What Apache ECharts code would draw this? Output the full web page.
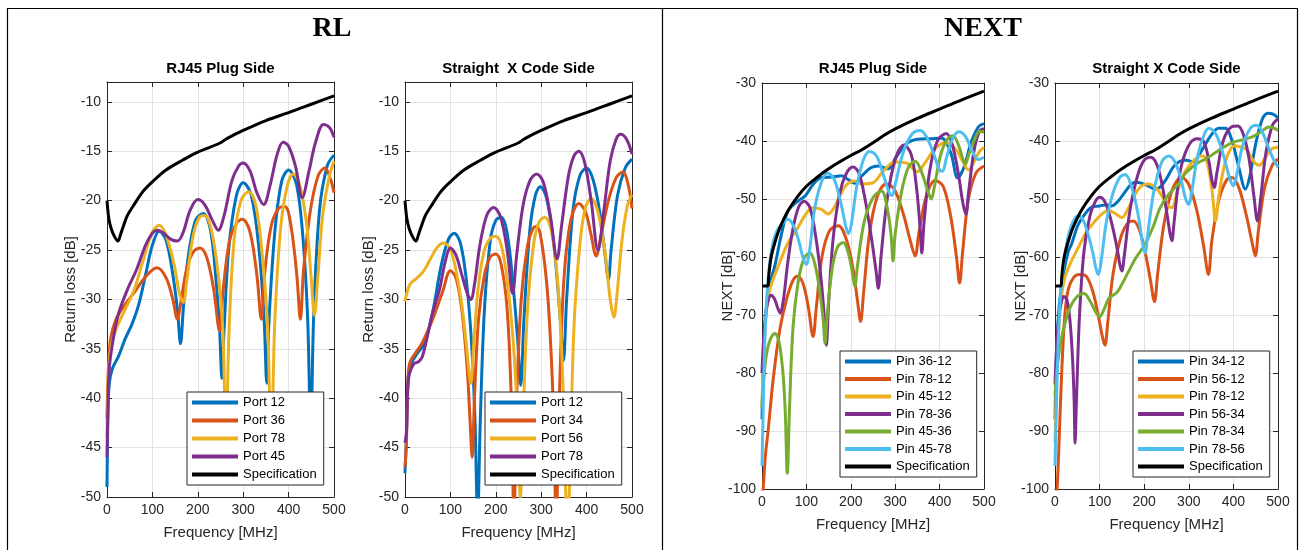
<!DOCTYPE html>
<html>
<head>
<meta charset="utf-8">
<script src="https://cdn.jsdelivr.net/npm/echarts@6/dist/echarts.min.js"></script>
<style>
  html, body { margin: 0; padding: 0; background: #ffffff; }
  #chart { width: 1304px; height: 550px; }
</style>
</head>
<body>
<div id="chart"></div>
<script>
// ---------- Return loss: frequency [MHz] / dB pairs ----------
const rlSpec = [[0,-20],[4,-21.8],[9,-22.8],[16,-23.6],[24,-24.1],[30,-23.4],[36,-22.6],[45,-21.5],[57,-20.6],[79,-19.1],[100,-18.1],[130,-16.9],[167,-15.9],[200,-15.1],[248,-14.2],[265,-13.7],[300,-12.9],[350,-11.9],[400,-11.1],[453,-10.2],[500,-9.4]];

// RJ45 plug side
const rlPlugPort12 = [[0,-49],[2,-42],[5,-38.5],[12,-37],[25,-35.8],[40,-34],[55,-32.5],[70,-30.5],[85,-27.5],[100,-24.5],[115,-23.1],[130,-24],[145,-27.5],[155,-31],[162,-34.5],[168,-31],[178,-26],[195,-22],[212,-21.3],[228,-23],[240,-28],[248,-33],[253,-38],[258,-33],[268,-25],[285,-19.5],[300,-18.2],[318,-19.5],[335,-25],[346,-32],[352,-38.5],[357,-32],[370,-23],[385,-18],[400,-16.9],[418,-18.5],[432,-24],[442,-32],[449,-44],[455,-32],[468,-21],[485,-16.5],[500,-15.4]];
const rlPlugPort36 = [[0,-42],[3,-37],[8,-34],[20,-32],[40,-30.5],[60,-29.3],[85,-27.7],[110,-26.8],[130,-27.8],[145,-30],[155,-32],[162,-30.5],[175,-27],[190,-25.2],[205,-24.8],[220,-25.8],[235,-29],[248,-33.2],[256,-29],[270,-24],[285,-22.3],[298,-21.9],[315,-23.2],[330,-27.5],[340,-32],[348,-27],[362,-22.5],[378,-20.8],[392,-20.6],[405,-22.5],[418,-27.5],[426,-32],[433,-27],[448,-21],[465,-17.5],[480,-16.7],[492,-17.8],[500,-19.2]];
const rlPlugPort78 = [[0,-44],[3,-38],[8,-35],[20,-33],[40,-31],[60,-29],[80,-26],[100,-23.2],[115,-22.5],[130,-23.5],[148,-26.5],[160,-29.5],[168,-30.3],[176,-28],[190,-23.5],[205,-21.6],[215,-21.5],[230,-23],[245,-27.5],[255,-33],[262,-44],[269,-33],[280,-24],[295,-20],[312,-19.1],[328,-20.5],[343,-26],[354,-33],[362,-46],[369,-33],[382,-23],[397,-18.5],[410,-17.3],[425,-18.5],[440,-22.5],[450,-28],[457,-31.6],[464,-28],[475,-21.5],[490,-17.5],[500,-16]];
const rlPlugPort45 = [[0,-46],[2,-41],[5,-37],[12,-34.5],[25,-31.5],[45,-29],[65,-27],[85,-24.5],[100,-23.3],[112,-23],[125,-23.3],[140,-23.9],[155,-24.1],[168,-23.2],[183,-21],[200,-19.9],[215,-20.4],[232,-22],[245,-23],[258,-21.5],[275,-18],[290,-16.5],[300,-16.2],[315,-17],[330,-19.2],[345,-20.4],[360,-18.3],[375,-15.3],[388,-14.1],[400,-14.5],[415,-16.5],[430,-19.7],[445,-17],[460,-14],[477,-12.3],[490,-12.6],[500,-13.6]];

// Straight X code side
const rlCodePort12 = [[0,-47.6],[3,-44],[6,-39],[10,-36.9],[25,-35.6],[43,-34.4],[60,-31.5],[80,-26.5],[95,-24],[108,-23.3],[122,-24.3],[135,-28],[146,-34],[154,-42],[160,-52],[166,-42],[175,-31],[188,-24],[200,-22],[212,-21.7],[225,-23.3],[238,-28.5],[248,-34],[255,-38.7],[262,-32],[275,-23],[287,-19.5],[298,-18.6],[312,-19.8],[328,-24.5],[342,-32],[349,-36.2],[356,-30],[370,-21],[385,-17.5],[400,-16.7],[415,-18],[430,-21.5],[442,-26],[448,-28],[454,-25],[468,-19.5],[485,-16.7],[500,-15.8]];
const rlCodePort34 = [[0,-47],[3,-44.6],[6,-39],[10,-36.5],[25,-35.3],[39,-34.3],[61,-32],[83,-29.2],[100,-27.1],[112,-27.8],[125,-31],[137,-37],[143,-42],[148,-46],[153,-40],[162,-32],[175,-27.5],[188,-25.7],[200,-25.4],[212,-26.5],[225,-31],[234,-40],[240,-52],[246,-40],[256,-30],[270,-24.5],[282,-22.8],[290,-22.6],[302,-24.5],[315,-30],[326,-40],[333,-52],[340,-40],[350,-28],[365,-22],[383,-20.3],[398,-21.2],[410,-23.5],[421,-25.6],[432,-23.5],[448,-20],[465,-17.7],[480,-17.1],[492,-18.5],[500,-20.8]];
const rlCodePort56 = [[0,-30.2],[5,-29.2],[12,-28.4],[25,-27.9],[40,-27.2],[55,-26],[70,-24.8],[85,-24.3],[100,-25],[112,-27],[125,-30.5],[135,-34.5],[145,-38.5],[152,-34],[162,-28.5],[175,-25],[188,-23.8],[200,-23.6],[212,-24.5],[225,-28],[238,-34],[248,-42],[254,-50],[260,-42],[270,-31],[283,-24.5],[295,-22.2],[308,-21.7],[322,-23],[335,-27.5],[346,-36],[353,-48],[358,-53],[363,-48],[372,-33],[385,-24.5],[397,-20.8],[410,-19.8],[424,-21],[440,-25],[452,-30],[460,-31.8],[467,-29.5],[478,-24],[490,-20.5],[500,-19.4]];
const rlCodePort78 = [[0,-44.5],[3,-43.5],[6,-39],[10,-37.5],[20,-36.5],[30,-36.3],[38,-35.8],[48,-34],[60,-31.5],[76,-29],[88,-26.3],[100,-24.8],[112,-25.5],[125,-27.5],[138,-29.5],[145,-30],[153,-28.5],[165,-24.5],[180,-21.5],[195,-20.7],[210,-21.6],[225,-25],[237,-29.4],[246,-25.5],[260,-20.5],[275,-18],[290,-17.3],[305,-18.2],[320,-21.5],[335,-25.9],[345,-22.5],[360,-17.5],[372,-15.5],[383,-15],[396,-16.2],[410,-20],[425,-25],[438,-21],[452,-16],[465,-13.8],[475,-13.3],[488,-13.8],[500,-15.3]];

// ---------- NEXT: frequency [MHz] / dB pairs ----------
const nextSpec = [[0,-65],[13,-65],[15,-63.5],[18,-61.3],[22,-59.5],[29,-57.5],[36,-55.8],[44,-54.3],[59,-52],[80,-49.6],[100,-47.8],[125,-46.2],[150,-44.8],[175,-43.6],[200,-42.5],[225,-41.5],[254,-40.1],[275,-39],[300,-37.9],[350,-36.1],[400,-34.5],[450,-32.9],[500,-31.4]];

// RJ45 plug side
const nxPlug3612 = [[0,-88],[3,-78],[7,-72],[12,-67],[18,-64.5],[29,-61.5],[44,-56],[59,-52],[82,-50.3],[97,-49.5],[115,-47.5],[134,-46.3],[157,-46.2],[179,-46],[195,-46.7],[209,-47.3],[225,-46],[245,-44.6],[262,-44.3],[284,-44.8],[300,-43],[325,-40.5],[350,-39.7],[380,-39.6],[404,-39.5],[425,-42],[441,-46.4],[455,-44.5],[472,-40],[488,-37.5],[500,-37]];
const nxPlug7812 = [[0,-103],[3,-99.6],[8,-94],[14,-89.8],[25,-81.2],[40,-72.6],[55,-67.4],[70,-64],[80,-63.3],[92,-64.5],[104,-68.5],[115,-73.7],[122,-69],[135,-60],[152,-55.5],[172,-54.6],[190,-57],[205,-62],[215,-67.5],[222,-71.1],[229,-66],[242,-56],[260,-49.5],[280,-47.4],[298,-48.3],[318,-52.5],[335,-57.5],[345,-59.8],[353,-56],[370,-49.5],[390,-46.8],[408,-47.8],[425,-53],[438,-60],[445,-64.5],[452,-59],[465,-50],[482,-45.5],[500,-44.3]];
const nxPlug4512 = [[0,-86],[4,-76],[9,-70],[15,-66.5],[22,-64.5],[37,-61.5],[59,-57.5],[82,-54.8],[97,-52.8],[115,-51.5],[134,-51.8],[149,-52.6],[160,-51.8],[172,-50],[190,-47.6],[209,-46.9],[225,-47.4],[250,-47.2],[270,-45.5],[299,-43.6],[325,-43.8],[350,-45.3],[365,-44],[389,-41.4],[412,-40.3],[434,-41.2],[452,-43.5],[465,-45],[478,-43.5],[490,-41.8],[500,-41.1]];
const nxPlug7836 = [[0,-80],[3,-75],[8,-70],[14,-67.5],[20,-66.6],[28,-67.2],[35,-68.7],[41,-69.7],[48,-67.5],[58,-61],[70,-55],[83,-51.3],[95,-50.4],[108,-51.5],[120,-56],[132,-63],[140,-70],[145,-75.2],[150,-68],[160,-57],[175,-49],[190,-45.6],[205,-44.5],[218,-45.5],[232,-50],[247,-57],[257,-62.5],[262,-65.4],[268,-60],[282,-50],[300,-43.2],[320,-40.7],[336,-42.3],[348,-48],[356,-55],[360,-59.3],[365,-54],[378,-45],[395,-40],[415,-38.7],[428,-40.5],[442,-45.5],[452,-50.5],[459,-52.6],[465,-49],[478,-41.5],[490,-38.3],[500,-37.9]];
const nxPlug4536 = [[0,-86],[5,-80],[12,-76],[20,-74],[29,-73.2],[38,-74.5],[46,-79],[52,-86],[57,-97.3],[62,-86],[70,-72],[82,-64],[95,-60.2],[108,-59.3],[120,-61.5],[132,-67],[138,-71],[142,-74.9],[147,-70],[158,-62],[170,-58.3],[183,-57.5],[195,-59.5],[203,-62.5],[209,-65.1],[215,-61.5],[230,-54],[250,-49.8],[269,-48.6],[282,-51.5],[291,-56.5],[295,-60.7],[300,-56],[315,-48.5],[330,-44.5],[345,-43.5],[360,-45.5],[373,-48.5],[381,-50],[388,-48],[402,-42.5],[417,-39.7],[430,-39.1],[443,-40.8],[452,-43],[458,-44],[465,-42.5],[480,-39.5],[490,-38.3],[500,-38.5]];
const nxPlug4578 = [[0,-96],[3,-85],[6,-75],[10,-68],[16,-62],[25,-57.5],[35,-55.3],[45,-54.3],[58,-53.5],[70,-54.5],[82,-57],[92,-60],[100,-61.3],[107,-59],[118,-52],[132,-47.5],[147,-45.5],[162,-46.5],[177,-50.5],[189,-54.8],[195,-56],[202,-54],[213,-48],[228,-43.3],[242,-41.8],[258,-42.6],[274,-46],[287,-49],[293,-49.4],[300,-47.5],[318,-42],[338,-38.8],[357,-38.2],[372,-39.5],[388,-42.5],[400,-45],[407,-45.2],[415,-43],[428,-39.8],[443,-38.4],[458,-39.2],[472,-41.5],[487,-43.2],[500,-42.8]];

// Straight X code side
const nxCode3412 = [[0,-88],[3,-78],[7,-71],[12,-66.5],[20,-62.5],[30,-59],[37,-57.8],[52,-54.4],[70,-52.3],[85,-51.3],[100,-51.2],[115,-51],[127,-51.2],[140,-50.5],[155,-49],[170,-47.5],[180,-47.1],[195,-47.3],[210,-47.8],[225,-48.3],[235,-48],[250,-46.5],[265,-44.5],[280,-43.5],[294,-43.3],[310,-43.6],[330,-41.5],[350,-39],[367,-37.8],[382,-37.8],[397,-40],[412,-44.5],[427,-48.3],[437,-46],[450,-40.5],[465,-36.2],[478,-35.2],[490,-35.4],[500,-36]];
const nxCode5612 = [[0,-104],[5,-99.6],[10,-90],[15,-80],[22,-70],[30,-65.5],[42,-63.5],[55,-63],[70,-63.3],[85,-66],[98,-70.5],[107,-74],[112,-75.2],[118,-71.5],[130,-63],[148,-56.5],[165,-54],[176,-53.8],[190,-55.5],[203,-59.5],[214,-64],[223,-67.7],[230,-63],[245,-54],[265,-48],[284,-46.3],[300,-47.5],[318,-52],[333,-58],[344,-63],[352,-57],[368,-50],[385,-46.7],[397,-46.3],[412,-48],[428,-52.5],[442,-57.5],[449,-59.8],[456,-55.5],[470,-48],[487,-44.2],[500,-43.1]];
const nxCode7812 = [[0,-92],[4,-80],[8,-73],[14,-67],[22,-63.6],[35,-61],[52,-58.4],[70,-55.8],[90,-53.8],[105,-52.6],[120,-52],[135,-52.5],[150,-53.2],[165,-51.5],[185,-48.5],[200,-47.5],[210,-47.4],[225,-48],[240,-49.5],[252,-51],[262,-51.5],[275,-48.5],[290,-45.5],[305,-43.9],[320,-42.8],[332,-42.6],[342,-44],[352,-48.5],[360,-53.8],[368,-49],[382,-43.5],[395,-41.2],[404,-40.8],[415,-41],[430,-41.5],[445,-43.5],[458,-44.2],[472,-42.8],[487,-41.3],[500,-41.1]];
const nxCode5634 = [[0,-82],[4,-75],[9,-70],[15,-67.5],[20,-66.8],[27,-67.5],[33,-70.5],[39,-77],[43,-85],[45,-92.1],[48,-85],[55,-70],[65,-59],[78,-53],[90,-50.5],[100,-49.7],[112,-50.5],[125,-53.5],[138,-58],[146,-61.5],[150,-62.4],[155,-60],[168,-52],[185,-46],[200,-43.3],[215,-42.8],[228,-44],[240,-47.5],[252,-53],[258,-56],[262,-57.2],[267,-54],[280,-45.5],[298,-41],[318,-39.6],[333,-40],[345,-43.5],[352,-46.8],[357,-48],[363,-45.5],[377,-40],[395,-37.6],[410,-37.4],[422,-38.8],[435,-43],[446,-49.5],[454,-53.8],[461,-50],[473,-42],[488,-37.2],[500,-36.2]];
const nxCode7834 = [[0,-84],[5,-79],[12,-75],[22,-71.5],[35,-68.5],[50,-66.8],[65,-66.3],[78,-67.5],[90,-69.3],[100,-70.3],[110,-69],[120,-67.2],[130,-66.6],[140,-66],[150,-64.7],[165,-62.5],[180,-60.3],[202,-57.8],[220,-54.8],[236,-51.5],[255,-49.2],[277,-47.4],[290,-45.8],[300,-45],[320,-43.8],[340,-43],[360,-42],[380,-41],[400,-40.2],[420,-39.8],[442,-39.3],[460,-38.5],[480,-37.6],[492,-37.8],[500,-38.2]];
const nxCode7856 = [[0,-96],[3,-86],[7,-75],[12,-67],[18,-62],[28,-57],[40,-54],[52,-52.9],[62,-53.5],[72,-55.5],[84,-59],[92,-62],[97,-63],[103,-61],[115,-54],[130,-49],[146,-46.2],[158,-45.8],[172,-48],[186,-52.5],[196,-57.5],[202,-59.3],[208,-56],[222,-48.5],[240,-43.5],[255,-42.6],[268,-43.5],[282,-46.5],[293,-50],[300,-50.9],[306,-49],[320,-42.5],[335,-38.8],[345,-37.8],[360,-38.7],[376,-42],[392,-46.5],[400,-47.7],[407,-46],[420,-41],[438,-37.8],[452,-37.3],[465,-38.5],[478,-41],[490,-43.2],[500,-44.5]];

// ---------- axis ticks ----------
const freqTicks = { min: 0, max: 500, step: 100 };
const rlTicks = { min: -50, max: -8, step: 5 };
const nextTicks = { min: -100, max: -30, step: 10 };

// ---------- styling ----------
const C = {
  blue: '#0072BD', orange: '#D95319', yellow: '#EDB120',
  purple: '#7E2F8E', green: '#77AC30', cyan: '#4DBEEE', black: '#000000'
};
const FONT = '"Liberation Sans", Arial, Helvetica, sans-serif';
const AXIS = '#262626';
const GRIDLINE = '#e2e2e2';

// one block per subplot
const panels = [
  { box: { left: 107, top: 82, width: 227, height: 415 }, y: rlTicks, yName: 'Return loss [dB]', yGap: 29,
    title: 'RJ45 Plug Side', legendPos: { left: 187, top: 392 }, legendGap: 5,
    lines: [['Port 12', rlPlugPort12, C.blue], ['Port 36', rlPlugPort36, C.orange], ['Port 78', rlPlugPort78, C.yellow],
            ['Port 45', rlPlugPort45, C.purple], ['Specification', rlSpec, C.black]] },
  { box: { left: 405, top: 82, width: 227, height: 415 }, y: rlTicks, yName: 'Return loss [dB]', yGap: 29,
    title: 'Straight  X Code Side', legendPos: { left: 485, top: 392 }, legendGap: 5,
    lines: [['Port 12', rlCodePort12, C.blue], ['Port 34', rlCodePort34, C.orange], ['Port 56', rlCodePort56, C.yellow],
            ['Port 78', rlCodePort78, C.purple], ['Specification', rlSpec, C.black]] },
  { box: { left: 762, top: 83, width: 222, height: 406 }, y: nextTicks, yName: 'NEXT [dB]', yGap: 27,
    title: 'RJ45 Plug Side', legendPos: { left: 840, top: 351 }, legendGap: 4.5,
    lines: [['Pin 36-12', nxPlug3612, C.blue], ['Pin 78-12', nxPlug7812, C.orange], ['Pin 45-12', nxPlug4512, C.yellow],
            ['Pin 78-36', nxPlug7836, C.purple], ['Pin 45-36', nxPlug4536, C.green], ['Pin 45-78', nxPlug4578, C.cyan],
            ['Specification', nextSpec, C.black]] },
  { box: { left: 1055, top: 83, width: 223, height: 406 }, y: nextTicks, yName: 'NEXT [dB]', yGap: 27,
    title: 'Straight X Code Side', legendPos: { left: 1133, top: 351 }, legendGap: 4.5,
    lines: [['Pin 34-12', nxCode3412, C.blue], ['Pin 56-12', nxCode5612, C.orange], ['Pin 78-12', nxCode7812, C.yellow],
            ['Pin 56-34', nxCode5634, C.purple], ['Pin 78-34', nxCode7834, C.green], ['Pin 78-56', nxCode7856, C.cyan],
            ['Specification', nextSpec, C.black]] }
];

const grids = [], xAxes = [], yAxes = [], series = [], legends = [], graphics = [];

panels.forEach((p, gi) => {
  grids.push(Object.assign({ containLabel: false }, p.box));

  const line = { show: true, onZero: false, lineStyle: { color: AXIS, width: 1 } };
  const tick = { show: true, inside: true, length: 5, lineStyle: { color: AXIS, width: 1 } };

  xAxes.push({
    type: 'value', gridIndex: gi, position: 'bottom',
    min: freqTicks.min, max: freqTicks.max, interval: freqTicks.step,
    axisLine: line, axisTick: tick,
    axisLabel: { color: AXIS, fontSize: 14, fontFamily: FONT, margin: 6 },
    splitLine: { show: true, lineStyle: { color: GRIDLINE, width: 1 } },
    name: 'Frequency [MHz]', nameLocation: 'middle', nameGap: 28, nameMoveOverlap: false,
    nameTextStyle: { color: AXIS, fontSize: 15, fontFamily: FONT }
  });
  xAxes.push({
    type: 'value', gridIndex: gi, position: 'top',
    min: freqTicks.min, max: freqTicks.max, interval: freqTicks.step,
    axisLine: line, axisTick: tick, axisLabel: { show: false }, splitLine: { show: false }
  });
  yAxes.push({
    type: 'value', gridIndex: gi, position: 'left',
    min: p.y.min, max: p.y.max, interval: p.y.step,
    axisLine: line, axisTick: tick,
    axisLabel: { color: AXIS, fontSize: 14, fontFamily: FONT, margin: 6, showMaxLabel: p.y.max % p.y.step === 0,
                 formatter: v => (v % p.y.step === 0 ? String(v) : '') },
    splitLine: { show: true, lineStyle: { color: GRIDLINE, width: 1 } },
    name: p.yName, nameLocation: 'middle', nameGap: p.yGap, nameRotate: 90, nameMoveOverlap: false,
    nameTextStyle: { color: AXIS, fontSize: 15, fontFamily: FONT }
  });
  yAxes.push({
    type: 'value', gridIndex: gi, position: 'right',
    min: p.y.min, max: p.y.max, interval: p.y.step,
    axisLine: line, axisTick: tick, axisLabel: { show: false }, splitLine: { show: false }
  });

  p.lines.forEach(([name, data, color]) => {
    series.push({
      type: 'line', name, data, xAxisIndex: gi * 2, yAxisIndex: gi * 2,
      smooth: 0.35, showSymbol: false, symbol: 'none', clip: true,
      lineStyle: { color, width: 3 }, itemStyle: { color },
      emphasis: { disabled: true }
    });
  });

  legends.push({
    orient: 'vertical', left: p.legendPos.left, top: p.legendPos.top,
    icon: 'rect', itemWidth: 46, itemHeight: 4, itemGap: p.legendGap,
    padding: [4, 7, 4, 5], backgroundColor: '#ffffff', borderColor: AXIS, borderWidth: 1,
    textStyle: { color: '#000000', fontSize: 13, fontFamily: FONT },
    selectedMode: false, z: 20,
    data: p.lines.map(([name, , color]) => ({ name, itemStyle: { color } }))
  });

  graphics.push({
    type: 'text', x: p.box.left + p.box.width / 2, y: 69,
    style: { text: p.title, font: 'bold 15px ' + FONT, fill: '#000000',
             align: 'center', verticalAlign: 'middle', textAlign: 'center', textVerticalAlign: 'middle' }
  });
});

// frame, divider and section headings
graphics.push(
  { type: 'rect', shape: { x: 7.5, y: 8.5, width: 1290, height: 560 },
    style: { fill: 'none', stroke: '#000000', lineWidth: 1.2 }, silent: true },
  { type: 'line', shape: { x1: 662.5, y1: 8.5, x2: 662.5, y2: 550 },
    style: { stroke: '#000000', lineWidth: 1.2 }, silent: true },
  { type: 'text', x: 332, y: 29,
    style: { text: 'RL', font: 'bold 28px "Liberation Serif", "Times New Roman", serif', fill: '#000000',
             align: 'center', verticalAlign: 'middle', textAlign: 'center', textVerticalAlign: 'middle' } },
  { type: 'text', x: 983, y: 29,
    style: { text: 'NEXT', font: 'bold 28px "Liberation Serif", "Times New Roman", serif', fill: '#000000',
             align: 'center', verticalAlign: 'middle', textAlign: 'center', textVerticalAlign: 'middle' } }
);

const chart = echarts.init(document.getElementById('chart'));
chart.setOption({
  animation: false,
  backgroundColor: '#ffffff',
  grid: grids,
  xAxis: xAxes,
  yAxis: yAxes,
  legend: legends,
  series: series,
  graphic: { elements: graphics }
});
</script>
</body>
</html>
